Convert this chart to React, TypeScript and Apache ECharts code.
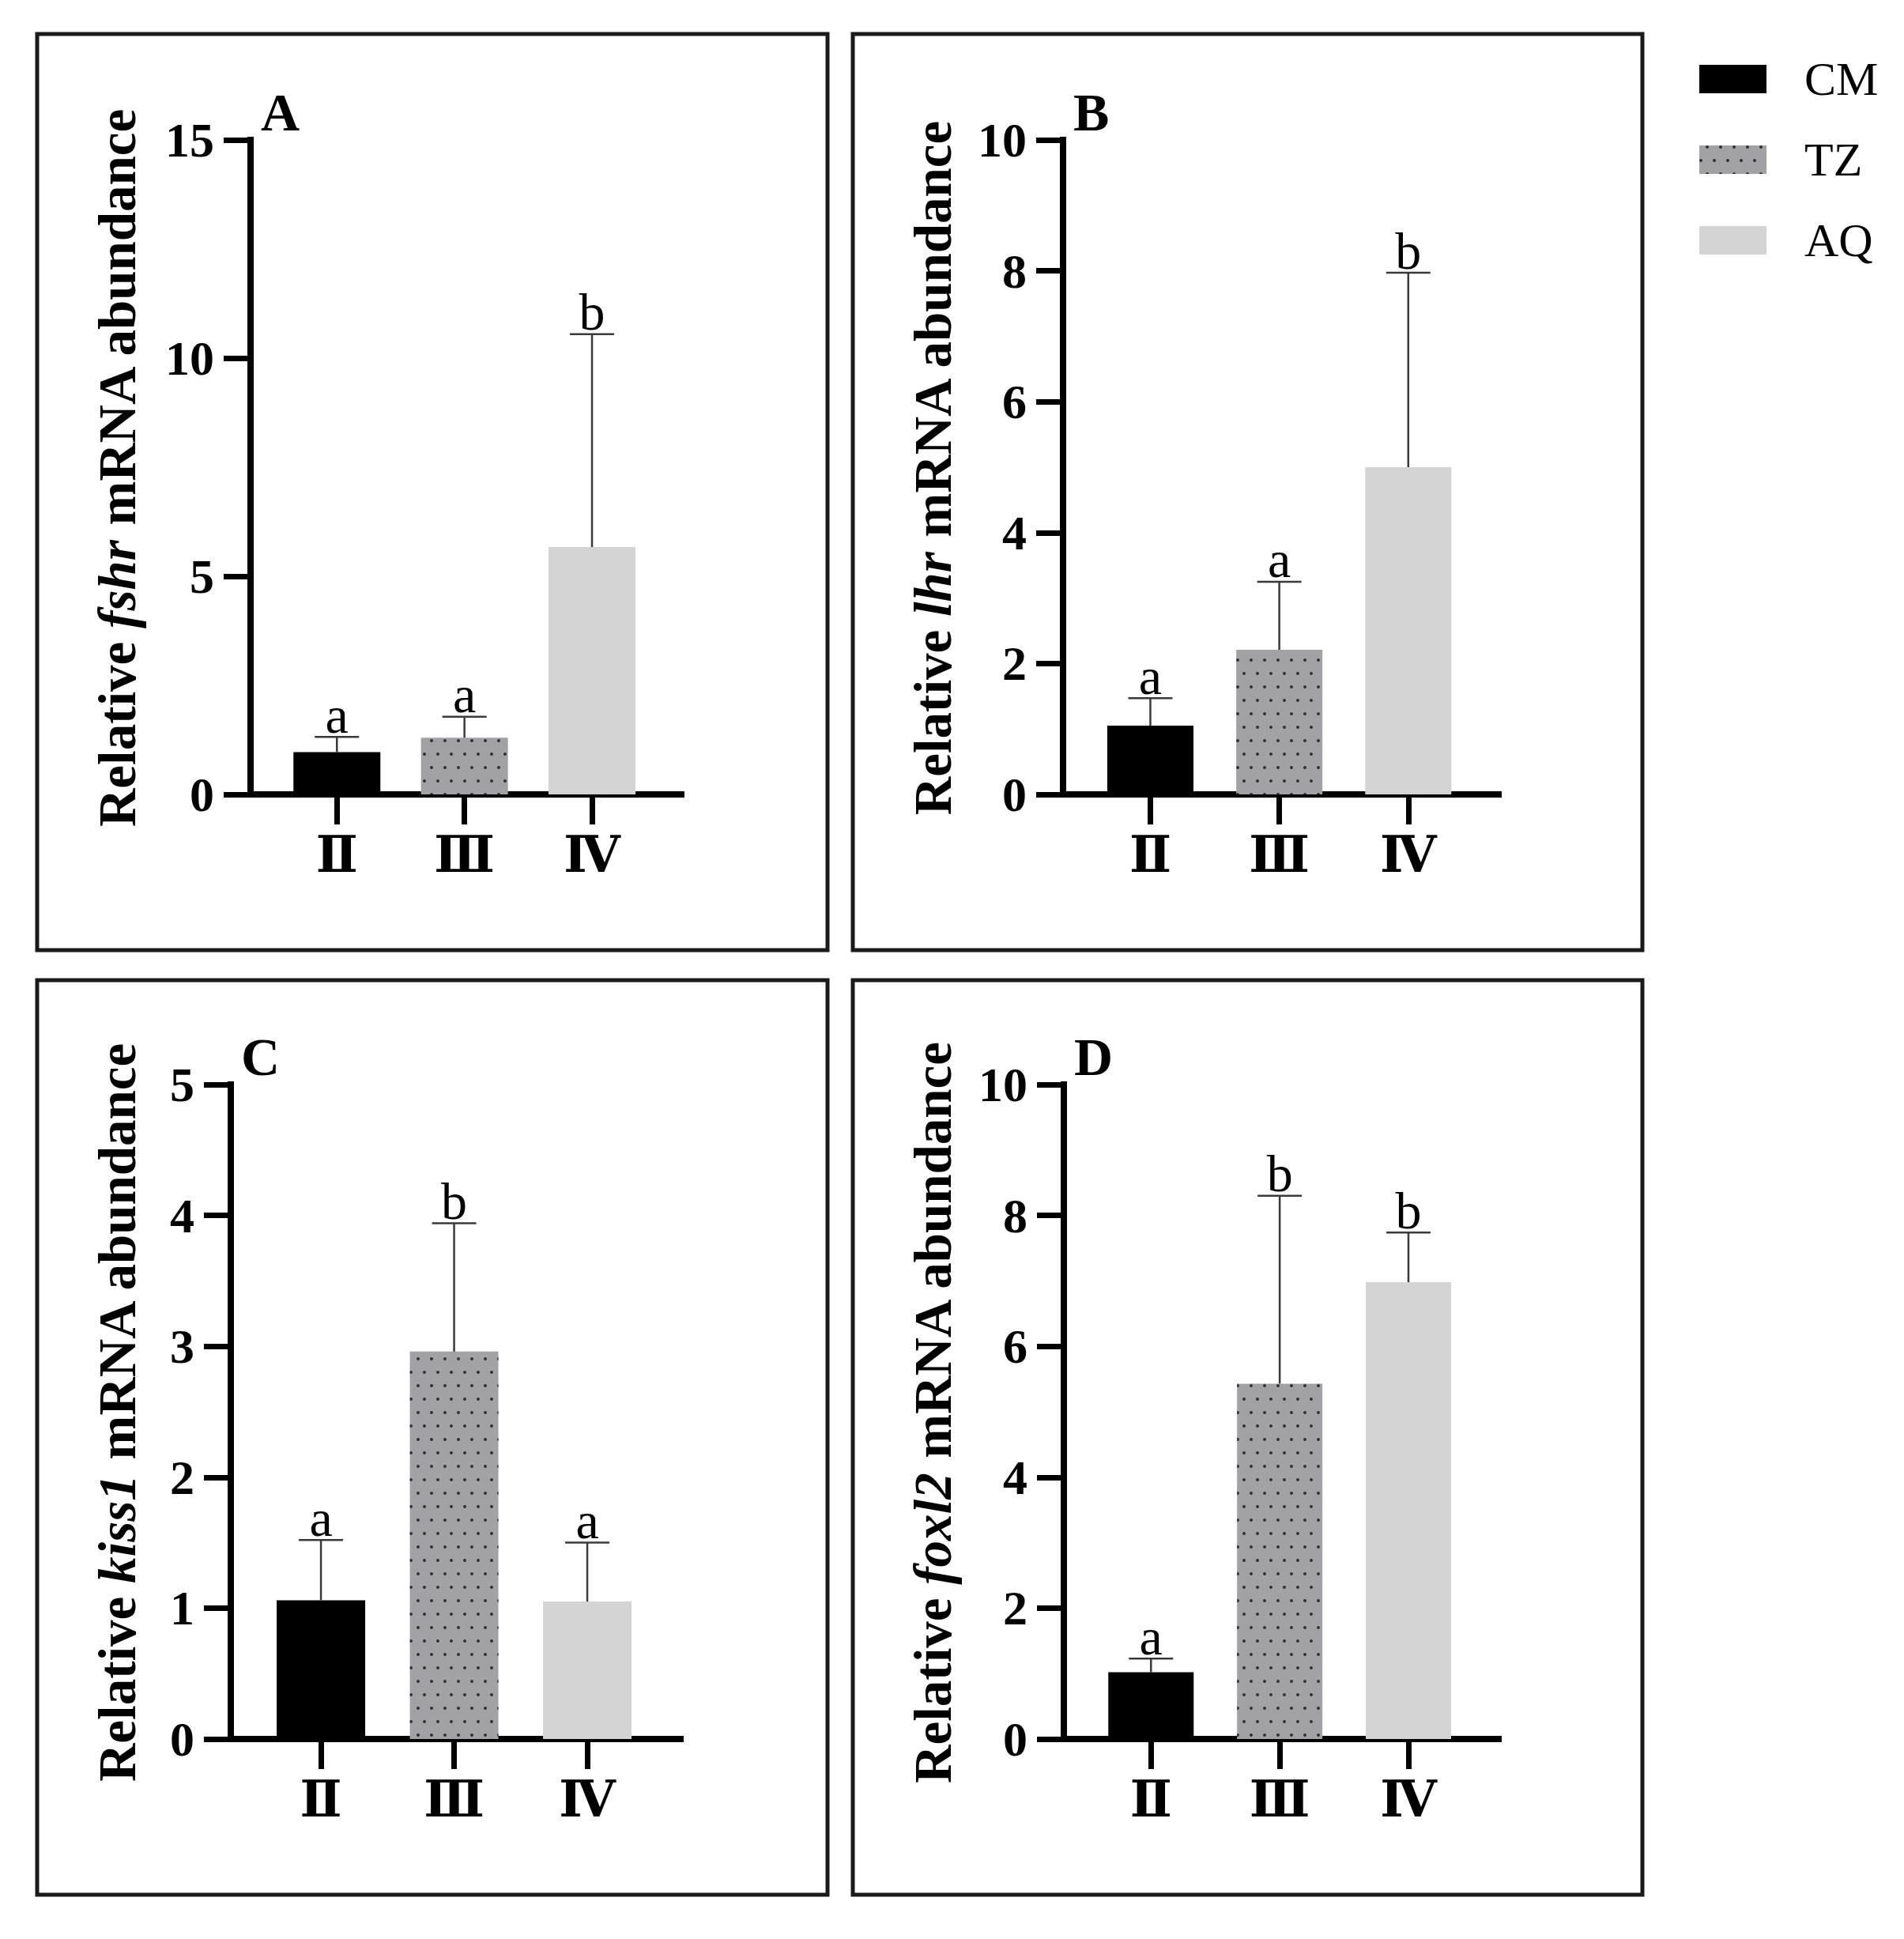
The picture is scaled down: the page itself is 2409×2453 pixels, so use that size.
import React, { useEffect, useRef } from "react";
import * as echarts from "echarts";

// ---- data ----
const stages = ["Ⅱ", "Ⅲ", "Ⅳ"];
const groups = ["CM", "TZ", "AQ"];

const fshrMean = [0.97, 1.3, 5.67];
const fshrErr = [0.35, 0.48, 4.88];
const fshrSig = ["a", "a", "b"];

const lhrMean = [1.05, 2.21, 5.0];
const lhrErr = [0.42, 1.04, 2.97];
const lhrSig = ["a", "a", "b"];

const kiss1Mean = [1.06, 2.96, 1.05];
const kiss1Err = [0.46, 0.98, 0.45];
const kiss1Sig = ["a", "b", "a"];

const foxl2Mean = [1.02, 5.43, 6.98];
const foxl2Err = [0.21, 2.87, 0.76];
const foxl2Sig = ["a", "b", "b"];

const yMaxes = [15, 10, 5, 10];
const yIntervals = [5, 2, 1, 2];

// ---- style / layout ----
const FONT = '"Liberation Serif", "Times New Roman", "DejaVu Serif", serif';
const ERR_COLOR = "#3a3a3a";
const groupStyles: any[] = [
  { color: "#000000" },
  {
    color: "#a2a1a6",
    decal: {
      symbol: "circle",
      symbolSize: 1,
      color: "#333333",
      backgroundColor: "#a2a1a6",
      dashArrayX: [
        [4, 13],
        [0, 8, 4, 5],
      ],
      dashArrayY: [4, 13],
      rotation: 0,
    },
  },
  { color: "#d4d4d4" },
];

const panels = [
  { letter: "A", gene: "fshr", mean: fshrMean, err: fshrErr, sig: fshrSig, box: [47, 43, 1000, 1159], grid: [317, 177, 545, 828], barW: 110 },
  { letter: "B", gene: "lhr", mean: lhrMean, err: lhrErr, sig: lhrSig, box: [1079, 43, 999, 1159], grid: [1345, 177, 551, 828], barW: 109 },
  { letter: "C", gene: "kiss1", mean: kiss1Mean, err: kiss1Err, sig: kiss1Sig, box: [47, 1240, 1000, 1157], grid: [292, 1372, 569, 828], barW: 112 },
  { letter: "D", gene: "foxl2", mean: foxl2Mean, err: foxl2Err, sig: foxl2Sig, box: [1079, 1240, 999, 1157], grid: [1346, 1372, 550, 828], barW: 108 },
];

const X_MIN = -0.677;
const X_MAX = 2.7;
const TITLE_FS = 67;

function buildOption() {
  const grid: any[] = [];
  const xAxis: any[] = [];
  const yAxis: any[] = [];
  const series: any[] = [];
  const graphic: any[] = [];

  panels.forEach((p, k) => {
    const [gl, gt, gw, gh] = p.grid;
    grid.push({ left: gl, top: gt, width: gw, height: gh, containLabel: false });
    xAxis.push({
      type: "value",
      gridIndex: k,
      min: X_MIN,
      max: X_MAX,
      splitLine: { show: false },
      axisLine: { show: true, onZero: false, lineStyle: { color: "#000", width: 8, cap: "square" } },
      axisTick: { show: true, length: 38, customValues: [0, 1, 2], lineStyle: { color: "#000", width: 7 } },
      axisLabel: {
        show: true,
        customValues: [0, 1, 2],
        formatter: (v: number) => stages[Math.round(v)],
        margin: 45,
        fontFamily: FONT,
        fontWeight: "bold",
        fontSize: 63,
        color: "#000",
      },
    });
    const titleGap = gl - p.box[0] - 124 - (TITLE_FS / 2 - 0.3375 * TITLE_FS);
    yAxis.push({
      type: "value",
      gridIndex: k,
      min: 0,
      max: yMaxes[k],
      interval: yIntervals[k],
      splitLine: { show: false },
      axisLine: { show: true, onZero: false, lineStyle: { color: "#000", width: 8, cap: "square" } },
      axisTick: { show: true, length: 34, lineStyle: { color: "#000", width: 7 } },
      axisLabel: { margin: 46, fontFamily: FONT, fontWeight: "bold", fontSize: 62, color: "#000" },
      name: `{b|Relative }{i|${p.gene}}{b| mRNA abundance}`,
      nameLocation: "middle",
      nameGap: titleGap,
      nameTextStyle: {
        fontFamily: FONT,
        fontSize: TITLE_FS,
        fontWeight: "bold",
        color: "#000",
        rich: {
          b: { fontFamily: FONT, fontSize: TITLE_FS, lineHeight: TITLE_FS, fontWeight: "bold", color: "#000" },
          i: { fontFamily: FONT, fontSize: TITLE_FS, lineHeight: TITLE_FS, fontWeight: "bold", fontStyle: "italic", color: "#000" },
        },
      },
    });

    groups.forEach((g, j) => {
      series.push({
        type: "bar",
        name: g,
        xAxisIndex: k,
        yAxisIndex: k,
        barWidth: p.barW,
        barGap: "-100%",
        data: [[j, p.mean[j]]],
        itemStyle: groupStyles[j],
        emphasis: { disabled: true },
        z: 2,
      });
    });

    series.push({
      type: "custom",
      name: "err" + k,
      xAxisIndex: k,
      yAxisIndex: k,
      clip: false,
      z: 5,
      data: p.mean.map((m, j) => [j, m, p.err[j]]),
      renderItem: (params: any, api: any) => {
        const i = params.dataIndex;
        const x = api.value(0);
        const m = api.value(1);
        const e = api.value(2);
        const base = api.coord([x, m]);
        const top = api.coord([x, m + e]);
        return {
          type: "group",
          children: [
            { type: "line", shape: { x1: base[0], y1: base[1], x2: base[0], y2: top[1] }, style: { stroke: ERR_COLOR, lineWidth: 2.5 } },
            { type: "line", shape: { x1: top[0] - 28, y1: top[1], x2: top[0] + 28, y2: top[1] }, style: { stroke: ERR_COLOR, lineWidth: 2.5 } },
            {
              type: "text",
              x: top[0],
              y: top[1] - 28,
              style: {
                text: p.sig[i],
                fill: "#000",
                font: `66px ${FONT}`,
                align: "center",
                verticalAlign: "middle",
                textAlign: "center",
                textVerticalAlign: "middle",
              },
            },
          ],
        };
      },
    });

    graphic.push({
      type: "rect",
      shape: { x: p.box[0], y: p.box[1], width: p.box[2], height: p.box[3] },
      style: { fill: "none", stroke: "#1a1a1a", lineWidth: 5 },
      z: 0,
    });
    graphic.push({
      type: "text",
      x: gl + 13,
      y: gt - 12 - 0.3375 * 68,
      style: {
        text: p.letter,
        fill: "#000",
        font: `bold 68px ${FONT}`,
        align: "left",
        verticalAlign: "middle",
        textAlign: "left",
        textVerticalAlign: "middle",
      },
      z: 10,
    });
  });

  return {
    animation: false,
    backgroundColor: "#ffffff",
    grid,
    xAxis,
    yAxis,
    series,
    graphic,
    legend: {
      data: groups,
      orient: "vertical",
      left: 2150,
      top: 70,
      padding: 0,
      itemWidth: 85,
      itemHeight: 36,
      itemGap: 42,
      icon: "rect",
      selectedMode: false,
      textStyle: { fontFamily: FONT, fontSize: 60, lineHeight: 60, color: "#000", padding: [0, 0, 0, 43] },
    },
  };
}

export default function App() {
  const ref = useRef<HTMLDivElement>(null);
  useEffect(() => {
    document.body.style.margin = "0";
    if (!ref.current) return;
    const chart = echarts.init(ref.current, null, { renderer: "svg" });
    chart.setOption(buildOption() as any);
    return () => chart.dispose();
  }, []);
  return <div ref={ref} style={{ width: 2409, height: 2453, background: "#fff" }} />;
}
